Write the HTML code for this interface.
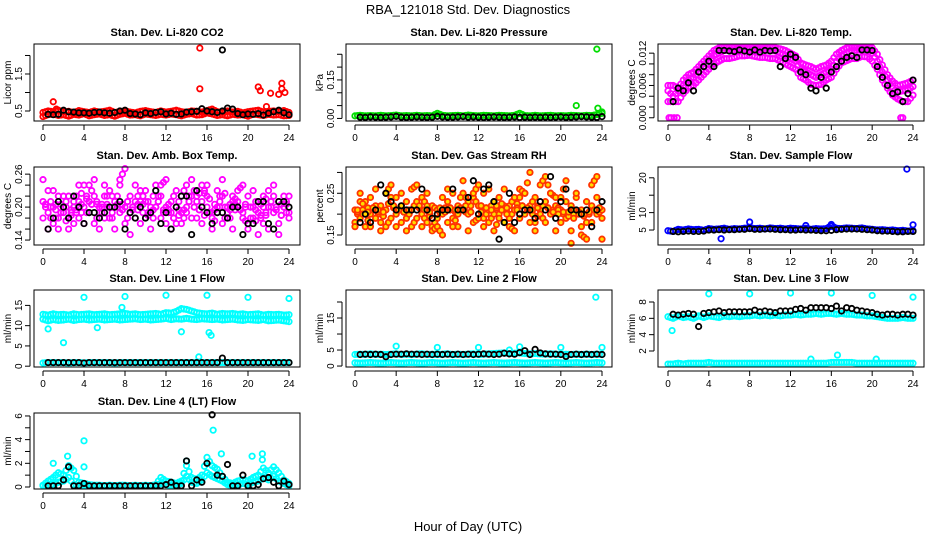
<!DOCTYPE html>
<html><head><meta charset="utf-8">
<style>
html,body{margin:0;padding:0;background:#fff;}
svg{display:block;font-family:"Liberation Sans",sans-serif;}
</style></head>
<body>
<svg id="chart" width="936" height="540" viewBox="0 0 936 540" xmlns="http://www.w3.org/2000/svg">
<text x="468" y="14" text-anchor="middle" font-size="13">RBA_121018  Std. Dev. Diagnostics</text>
<text x="468" y="531" text-anchor="middle" font-size="13">Hour of Day (UTC)</text>
</svg>
<script>
const hours=[0,0.5,1,1.5,2,2.5,3,3.5,4,4.5,5,5.5,6,6.5,7,7.5,8,8.5,9,9.5,10,10.5,11,11.5,12,12.5,13,13.5,14,14.5,15,15.5,16,16.5,17,17.5,18,18.5,19,19.5,20,20.5,21,21.5,22,22.5,23,23.5,24];
const xTicks=[0,4,8,12,16,20,24];

// CO2
const co2A=[0.35,0.4,0.42,0.38,0.4,0.36,0.41,0.39,0.43,0.37,0.4,0.42,0.38,0.4,0.36,0.41,0.44,0.39,0.4,0.37,0.42,0.4,0.38,0.41,0.39,0.42,0.4,0.37,0.41,0.43,0.39,0.4,0.45,0.42,0.38,0.4,0.37,0.41,0.39,0.4,0.36,0.42,0.4,0.38,0.41,0.39,0.4,0.37,0.38];
const co2B=[0.46,0.5,0.48,0.52,0.47,0.49,0.45,0.51,0.48,0.46,0.5,0.47,0.49,0.52,0.46,0.48,0.5,0.47,0.45,0.49,0.51,0.48,0.46,0.5,0.47,0.49,0.52,0.48,0.46,0.5,0.49,0.47,0.51,0.55,0.48,0.46,0.5,0.47,0.49,0.45,0.48,0.5,0.52,0.47,0.49,0.5,0.48,0.51,0.46];
const co2K=[0.42,0.41,0.4,0.41,0.52,0.48,0.47,0.45,0.45,0.44,0.46,0.47,0.45,0.44,0.46,0.5,0.52,0.43,0.42,0.4,0.45,0.43,0.46,0.48,0.42,0.44,0.41,0.42,0.47,0.48,0.49,0.56,0.5,0.48,0.46,0.5,0.58,0.55,0.43,0.4,0.42,0.41,0.43,0.39,0.44,0.48,0.52,0.45,0.4];
const co2ExX=[1,1.3,15.3,15.3,21,21.2,21.8,22.2,23,23.3,23.3,23.6];
const co2ExY=[0.75,0.55,2.2,1.1,1.15,1.05,0.62,0.98,0.95,1.25,1.1,1.0];
const co2KExX=[17.5];const co2KExY=[2.15];

// Pressure
const prA=[0.01,0.012,0.01,0.011,0.01,0.012,0.01,0.011,0.013,0.01,0.011,0.01,0.012,0.01,0.011,0.01,0.02,0.012,0.01,0.011,0.012,0.01,0.013,0.011,0.01,0.012,0.011,0.01,0.012,0.011,0.01,0.012,0.02,0.011,0.01,0.012,0.01,0.011,0.012,0.01,0.011,0.01,0.012,0.011,0.01,0.012,0.011,0.015,0.02];
const prK=[0.005,0.005,0.004,0.006,0.005,0.004,0.005,0.006,0.008,0.005,0.004,0.005,0.006,0.005,0.004,0.005,0.008,0.006,0.005,0.005,0.006,0.007,0.005,0.006,0.005,0.004,0.005,0.006,0.005,0.004,0.005,0.006,0.004,0.005,0.004,0.005,0.004,0.005,0.004,0.005,0.006,0.004,0.005,0.006,0.007,0.006,0.005,0.004,0.007];
const prExX=[21.5,23.5,23.6,24];const prExY=[0.05,0.27,0.04,0.025];

// Li-820 temperature
const tpMid=[0.005,0.004,0.005,0.006,0.007,0.0075,0.0085,0.0095,0.0105,0.0115,0.012,0.0125,0.0125,0.0125,0.0128,0.0128,0.0128,0.0127,0.0126,0.0126,0.0125,0.0124,0.012,0.0115,0.011,0.0105,0.009,0.0085,0.008,0.0075,0.008,0.0085,0.009,0.0105,0.0115,0.012,0.0125,0.0125,0.0128,0.0127,0.012,0.0105,0.0085,0.007,0.0055,0.0048,0.005,0.0052,0.0058];
const tpLow=[0.003,0.003,0.003,0.0045,0.0055,0.006,0.007,0.008,0.009,0.01,0.0105,0.011,0.011,0.0112,0.0115,0.0115,0.0116,0.0114,0.0112,0.0112,0.011,0.011,0.0105,0.01,0.0095,0.009,0.0075,0.007,0.0062,0.006,0.0062,0.007,0.0075,0.009,0.0102,0.0106,0.011,0.011,0.0114,0.0113,0.0105,0.009,0.007,0.0055,0.0042,0.0035,0.003,0.003,0.0042];
const tpHigh=[0.006,0.006,0.0055,0.007,0.008,0.0085,0.0095,0.0105,0.0115,0.0125,0.013,0.013,0.013,0.013,0.013,0.013,0.013,0.013,0.013,0.013,0.013,0.013,0.0128,0.0125,0.012,0.0115,0.0102,0.0098,0.0095,0.009,0.0095,0.0098,0.0105,0.0118,0.0125,0.013,0.013,0.013,0.013,0.013,0.013,0.0118,0.0098,0.008,0.0068,0.006,0.0062,0.0065,0.007];
const tpK=[0.006,0.003,0.0055,0.005,0.0065,0.005,0.0085,0.0095,0.0105,0.0095,0.0125,0.0125,0.0124,0.0123,0.0126,0.0124,0.0122,0.0126,0.0122,0.0125,0.0124,0.0125,0.0095,0.011,0.0118,0.0112,0.0085,0.008,0.0055,0.005,0.0075,0.0055,0.0085,0.0095,0.0105,0.0112,0.0115,0.0112,0.0126,0.0126,0.0125,0.0095,0.0075,0.006,0.0045,0.0048,0.003,0.0045,0.007];
const tpExX=[0.1,0.3,0.6,0.9,22.8,23];const tpExY=[0,0,0,0,0,0];

// Ambient box temperature
const abA=[0.21,0.19,0.23,0.18,0.2,0.22,0.17,0.21,0.24,0.19,0.22,0.2,0.18,0.23,0.21,0.19,0.2,0.22,0.18,0.21,0.23,0.19,0.2,0.22,0.17,0.21,0.23,0.19,0.2,0.22,0.18,0.21,0.24,0.19,0.2,0.22,0.18,0.21,0.2,0.19,0.22,0.18,0.21,0.2,0.23,0.19,0.21,0.2,0.18];
const abB=[0.18,0.23,0.17,0.22,0.19,0.16,0.21,0.18,0.2,0.24,0.17,0.19,0.22,0.18,0.2,0.24,0.17,0.19,0.21,0.23,0.18,0.2,0.24,0.18,0.2,0.19,0.17,0.22,0.24,0.18,0.22,0.17,0.2,0.18,0.23,0.17,0.19,0.22,0.21,0.18,0.17,0.23,0.19,0.17,0.2,0.22,0.17,0.2,0.22];
const abC=[0.25,0.16,0.2,0.16,0.22,0.18,0.2,0.24,0.17,0.21,0.25,0.16,0.24,0.2,0.16,0.25,0.27,0.15,0.24,0.17,0.21,0.16,0.2,0.24,0.25,0.16,0.2,0.17,0.19,0.25,0.21,0.24,0.22,0.16,0.19,0.25,0.2,0.16,0.23,0.24,0.16,0.2,0.15,0.22,0.16,0.24,0.15,0.22,0.19];
const abK=[0.19,0.16,0.18,0.21,0.2,0.18,0.22,0.2,0.17,0.19,0.19,0.18,0.19,0.2,0.2,0.21,0.16,0.19,0.18,0.2,0.18,0.19,0.23,0.17,0.19,0.16,0.2,0.22,0.22,0.15,0.23,0.2,0.19,0.17,0.19,0.19,0.18,0.2,0.2,0.15,0.17,0.17,0.21,0.21,0.17,0.16,0.21,0.21,0.2];

// Gas stream RH
const rhA=[0.21,0.19,0.23,0.2,0.22,0.18,0.21,0.24,0.2,0.22,0.19,0.21,0.23,0.2,0.18,0.22,0.21,0.2,0.23,0.19,0.22,0.21,0.2,0.24,0.22,0.19,0.21,0.23,0.2,0.22,0.19,0.21,0.24,0.2,0.22,0.18,0.21,0.23,0.2,0.22,0.21,0.19,0.22,0.2,0.21,0.18,0.22,0.2,0.21];
const rhB=[0.18,0.23,0.17,0.24,0.19,0.22,0.17,0.19,0.24,0.18,0.23,0.17,0.19,0.24,0.22,0.17,0.19,0.24,0.18,0.25,0.17,0.25,0.23,0.18,0.19,0.25,0.18,0.2,0.24,0.18,0.22,0.24,0.19,0.25,0.18,0.24,0.2,0.18,0.25,0.24,0.18,0.23,0.16,0.24,0.17,0.23,0.18,0.24,0.19];
const rhC=[0.17,0.25,0.2,0.17,0.26,0.16,0.25,0.27,0.17,0.25,0.16,0.26,0.27,0.17,0.25,0.16,0.17,0.15,0.26,0.17,0.2,0.28,0.16,0.25,0.27,0.17,0.26,0.16,0.19,0.26,0.17,0.16,0.26,0.25,0.3,0.16,0.27,0.29,0.25,0.16,0.24,0.28,0.13,0.25,0.15,0.14,0.27,0.29,0.14];
const rhK=[0.2,0.18,0.2,0.18,0.21,0.27,0.25,0.23,0.21,0.22,0.21,0.21,0.21,0.26,0.21,0.19,0.2,0.21,0.21,0.26,0.21,0.21,0.24,0.28,0.2,0.26,0.27,0.23,0.14,0.18,0.25,0.18,0.2,0.21,0.21,0.19,0.23,0.21,0.29,0.19,0.23,0.26,0.21,0.21,0.2,0.21,0.17,0.21,0.23];

// Sample flow
const sfA=[4.8,4.6,5.2,5.0,5.3,5.1,5.2,4.9,5.4,5.2,5.3,5.5,5.2,5.4,5.3,5.5,5.6,5.4,5.5,5.3,5.6,5.4,5.5,5.3,5.5,5.4,5.3,5.5,5.2,5.4,5.3,5.4,6.2,5.5,5.4,5.6,5.5,5.4,5.6,5.3,5.2,5.0,5.1,4.9,5.0,4.8,4.9,4.7,4.8];
const sfK=[4.7,4.6,4.5,4.6,4.7,4.6,4.6,4.7,5.0,5.0,5.1,5.0,5.1,5.1,5.2,5.2,5.4,5.2,5.2,5.3,5.3,5.2,5.1,5.1,5.0,5.0,5.1,5.0,5.0,4.9,4.8,4.8,4.9,5.1,5.2,5.3,5.3,5.3,5.2,5.1,5.0,4.8,4.7,4.7,4.6,4.5,4.5,4.6,4.6];
const sfExX=[5.2,8,13.5,16,23.4,24];const sfExY=[2.5,7.3,6.3,6.6,22.5,6.5];

// Line 1 flow
const l1A=[12.8,12.6,12.9,12.7,12.8,12.6,12.9,12.7,12.8,12.9,12.7,12.8,12.9,12.7,12.8,12.9,13.0,12.8,12.9,12.7,12.8,12.9,13.0,12.8,13.2,13.1,13.5,14.2,14.0,13.6,13.2,13.0,12.9,13.1,12.8,13.0,12.9,13.0,12.8,12.9,12.7,12.8,12.9,12.6,12.8,12.7,12.8,12.6,12.7];
const l1B=[11.6,11.2,11.5,11.3,11.4,11.6,11.3,11.5,11.6,11.4,11.5,11.6,11.4,11.5,11.6,11.4,11.5,11.6,11.7,11.5,11.6,11.4,11.5,11.6,11.8,11.5,11.7,11.6,11.8,11.6,11.5,11.7,11.6,11.5,11.6,11.4,11.5,11.6,11.4,11.3,11.5,11.4,11.3,11.5,11.2,11.3,11.4,11.2,11.0];
const l1C=[0.8,0.9,0.9,0.9,0.9,0.8,0.9,0.9,0.8,0.9,0.9,0.9,0.9,0.9,0.8,0.9,0.9,0.9,0.9,0.9,0.9,0.9,0.9,0.9,0.9,0.9,0.9,0.9,0.9,0.9,0.9,0.9,0.9,0.9,0.9,0.9,0.9,0.9,0.9,0.9,0.9,0.9,0.9,0.9,0.9,0.9,0.9,0.9,0.9];
const l1K=[0.9,0.9,0.9,0.9,0.9,0.9,0.9,0.9,0.8,0.9,0.9,0.9,0.9,0.9,0.9,0.9,0.9,0.9,0.9,0.9,0.9,0.9,0.9,0.9,0.9,0.9,0.9,0.9,0.9,0.9,0.9,0.9,0.9,0.9,0.9,2.0,0.9,0.9,0.9,0.9,0.9,0.9,0.9,0.9,0.9,0.9,0.9,0.9,0.9];
const l1ExX=[0.5,2,4,5.3,7.7,8,12,13.5,15.2,16,16.2,16.4,20,24];const l1ExY=[9.2,5.8,17,9.5,14.5,17.2,17.5,8.5,2.3,17.5,8.3,7.6,17,16.7];

// Line 2 flow
const l2A=[3.6,3.7,3.6,3.8,3.6,3.7,3.6,3.7,3.8,3.6,3.7,3.6,3.7,3.8,3.6,3.7,3.6,3.7,3.8,3.6,3.7,3.6,3.7,3.8,3.6,3.7,3.8,3.9,4.0,4.1,3.9,4.0,4.1,3.9,3.8,3.9,3.8,3.7,3.8,3.7,3.6,3.7,3.6,3.7,3.6,3.7,3.6,3.7,3.6];
const l2B=[1.0,0.9,1.0,1.1,1.0,0.9,1.0,1.1,1.0,0.9,1.0,1.1,1.0,0.9,1.0,1.1,1.0,0.9,1.0,1.1,1.0,0.9,1.0,1.1,1.0,0.9,1.0,1.1,1.0,0.9,1.0,1.1,1.0,0.9,1.0,1.1,1.0,0.9,1.0,1.1,1.0,0.9,1.0,1.1,1.0,0.9,1.0,1.1,1.0];
const l2K=[3.7,3.6,3.7,3.6,3.7,3.6,2.9,3.6,3.7,3.7,3.8,3.7,3.7,3.6,3.7,3.6,3.7,3.6,3.7,3.6,3.7,3.6,3.7,3.6,3.7,3.8,3.7,3.6,3.7,4.0,3.8,3.7,4.2,4.8,3.6,5.2,4.1,3.8,3.7,3.7,3.6,3.0,3.6,3.7,3.6,3.7,3.6,3.7,3.6];
const l2ExX=[4,8,12,15,16,20,23.4,24];const l2ExY=[6.2,5.8,5.8,5.0,6.0,5.8,21.5,5.8];

// Line 3 flow
const l3A=[6.2,6.0,6.3,6.1,6.2,6.0,6.3,6.1,6.3,6.2,6.1,6.3,6.2,6.3,6.2,6.3,6.3,6.4,6.3,6.4,6.3,6.4,6.3,6.4,6.4,6.5,6.4,6.5,6.5,6.6,6.5,6.6,6.6,6.5,6.6,6.5,6.5,6.4,6.4,6.3,6.3,6.2,6.1,6.0,6.0,6.0,6.1,6.0,6.0];
const l3B=[0.4,0.4,0.5,0.4,0.5,0.5,0.5,0.5,0.6,0.5,0.5,0.5,0.5,0.5,0.5,0.5,0.5,0.5,0.5,0.5,0.5,0.5,0.5,0.5,0.5,0.5,0.5,0.5,0.5,0.5,0.5,0.5,0.6,0.6,0.6,0.6,0.6,0.5,0.5,0.5,0.5,0.5,0.5,0.5,0.5,0.5,0.5,0.5,0.5];
const l3K=[6.5,6.5,6.4,6.5,6.6,6.5,5.0,6.6,6.7,6.8,6.9,6.7,6.8,6.8,6.8,6.8,6.8,7.0,6.8,6.9,6.8,6.7,6.9,6.9,6.9,7.1,7.2,7.0,7.3,7.3,7.3,7.3,7.2,7.5,6.9,7.3,7.2,7.0,6.9,6.8,6.7,6.5,6.4,6.5,6.5,6.4,6.5,6.5,6.4];
const l3ExX=[0.4,4,8,12,16,20,24,16.6,14,20.4];const l3ExY=[4.5,9.0,9.0,9.1,9.1,8.8,8.6,1.5,1.0,1.0];

// Line 4 (LT) flow
const l4A=[0.15,0.5,0.8,1.2,1.0,1.8,1.4,0.4,0.3,0.2,0.15,0.15,0.1,0.15,0.1,0.15,0.15,0.1,0.15,0.1,0.15,0.1,0.2,0.8,0.5,0.4,0.3,0.5,1.8,0.8,0.6,1.0,2.5,1.8,1.5,0.9,0.4,0.3,0.5,0.6,0.5,0.8,1.0,1.6,1.2,1.7,1.2,0.6,0.3];
const l4B=[0.1,0.1,0.2,0.4,0.5,0.8,0.2,0.1,0.1,0.1,0.1,0.1,0.1,0.1,0.1,0.1,0.1,0.1,0.1,0.1,0.1,0.1,0.1,0.3,0.2,0.1,0.2,0.3,0.9,0.4,0.3,0.6,1.2,0.9,0.7,0.5,0.2,0.1,0.2,0.3,0.2,0.4,0.5,0.8,0.6,0.9,0.5,0.3,0.1];
const l4K=[0.1,0.1,0.1,0.1,0.6,1.7,0.1,0.1,0.3,0.1,0.1,0.1,0.1,0.1,0.1,0.1,0.1,0.1,0.1,0.1,0.1,0.1,0.1,0.1,0.2,0.4,0.1,0.1,2.2,0.1,0.6,0.4,2.0,6.1,1.0,0.9,1.9,0.1,0.1,1.0,0.1,0.1,0.2,0.7,0.8,0.4,0.1,0.5,0.2];
const l4ExX=[1.0,2.4,4,4,14,16.6,17.4,20.4,21.4,21.4];const l4ExY=[2.0,2.6,3.9,1.7,2.2,4.8,2.8,2.6,2.8,2.3];

const svg=document.getElementById('chart');
const NS='http://www.w3.org/2000/svg';
function mk(tag,attrs,parent){const e=document.createElementNS(NS,tag);for(const k in attrs)e.setAttribute(k,attrs[k]);(parent||svg).appendChild(e);return e;}

const colL=[34,346,658],colR=[300,612,924],colX0=[43,355,668],colX24=[289,602,913];
const rowT=[44,167,290,413],rowB=[121,245,367,489];

const panels=[
 {name:'co2',r:0,c:0,title:'Stan. Dev. Li-820 CO2',yl:'Licor ppm',ymin:0.23,ymax:2.31,ticks:[0.5,1,1.5,2],labs:[0.5,1.5],fmt:v=>String(v),col:'#ff0000',fill:'none',ser:[co2A,co2B],ex:[co2ExX,co2ExY],k:co2K,kex:[co2KExX,co2KExY]},
 {name:'pressure',r:0,c:1,title:'Stan. Dev. Li-820 Pressure',yl:'kPa',ymin:-0.01,ymax:0.29,ticks:[0,0.05,0.1,0.15,0.2,0.25],labs:[0,0.15],fmt:v=>v.toFixed(2),col:'#00dd00',fill:'none',ser:[prA],ex:[prExX,prExY],k:prK},
 {name:'li820-temp',r:0,c:2,title:'Stan. Dev. Li-820 Temp.',yl:'degrees C',ymin:-0.0006,ymax:0.0137,ticks:[0,0.002,0.004,0.006,0.008,0.01,0.012],labs:[0,0.006,0.012],fmt:v=>v.toFixed(3),col:'#ff00ff',fill:'none',ser:[tpLow,tpMid,tpHigh],ex:[tpExX,tpExY],k:tpK},
 {name:'amb-box-temp',r:1,c:0,title:'Stan. Dev. Amb. Box Temp.',yl:'degrees C',ymin:0.131,ymax:0.273,ticks:[0.14,0.16,0.18,0.2,0.22,0.24,0.26],labs:[0.14,0.2,0.26],fmt:v=>v.toFixed(2),col:'#ff00ff',fill:'none',ser:[abA,abB,abC],k:abK},
 {name:'gas-rh',r:1,c:1,title:'Stan. Dev. Gas Stream RH',yl:'percent',ymin:0.126,ymax:0.313,ticks:[0.15,0.2,0.25,0.3],labs:[0.15,0.25],fmt:v=>v.toFixed(2),col:'#ff3300',fill:'#ffdd00',ser:[rhA,rhB,rhC],k:rhK},
 {name:'sample-flow',r:1,c:2,title:'Stan. Dev. Sample Flow',yl:'ml/min',ymin:0.7,ymax:23.1,ticks:[5,10,15,20],labs:[5,10,20],fmt:v=>String(v),col:'#0000ff',fill:'none',ser:[sfA],ex:[sfExX,sfExY],k:sfK},
 {name:'line1-flow',r:2,c:0,title:'Stan. Dev. Line 1 Flow',yl:'ml/min',ymin:-0.2,ymax:18.8,ticks:[0,5,10,15],labs:[0,5,10,15],fmt:v=>String(v),col:'#00ffff',fill:'none',ser:[l1A,l1B,l1C],ex:[l1ExX,l1ExY],k:l1K},
 {name:'line2-flow',r:2,c:1,title:'Stan. Dev. Line 2 Flow',yl:'ml/min',ymin:-0.3,ymax:23.75,ticks:[0,5,10,15,20],labs:[0,5,15],fmt:v=>String(v),col:'#00ffff',fill:'none',ser:[l2A,l2B],ex:[l2ExX,l2ExY],k:l2K},
 {name:'line3-flow',r:2,c:2,title:'Stan. Dev. Line 3 Flow',yl:'ml/min',ymin:0.04,ymax:9.47,ticks:[2,4,6,8],labs:[2,4,6,8],fmt:v=>String(v),col:'#00ffff',fill:'none',ser:[l3A,l3B],ex:[l3ExX,l3ExY],k:l3K},
 {name:'line4-flow',r:3,c:0,title:'Stan. Dev. Line 4 (LT) Flow',yl:'ml/min',ymin:-0.17,ymax:6.25,ticks:[0,1,2,3,4,5,6],labs:[0,2,4,6],fmt:v=>String(v),col:'#00ffff',fill:'none',ser:[l4A,l4B],ex:[l4ExX,l4ExY],k:l4K}
];

panels.forEach(p=>{
 const L=colL[p.c],R=colR[p.c],T=rowT[p.r],B=rowB[p.r];
 const xs=h=>colX0[p.c]+(colX24[p.c]-colX0[p.c])*h/24;
 const ys=v=>B-(v-p.ymin)/(p.ymax-p.ymin)*(B-T);
 const g=mk('g',{});
 
 
 const t=mk('text',{x:(L+R)/2,y:T-8,'text-anchor':'middle','font-size':'11','font-weight':'bold'},g);
 
 
 t.textContent=p.title;
 const yl=mk('text',{x:0,y:0,'text-anchor':'middle','font-size':'10',transform:`translate(${L-23},${(T+B)/2}) rotate(-90)`},g);
 
 
 yl.textContent=p.yl;
 const pts=mk('g',{},g);
 
 
 const dot=(h,v,stroke,fill)=>{const y=ys(v);if(y<T-2||y>B+2)return;const c=mk('circle',{cx:xs(h),cy:y,r:2.7,fill:fill,stroke:stroke,'stroke-width':1.8},pts);
  
  };
 p.ser.forEach(s=>s.forEach((v,i)=>{dot(hours[i],v,p.col,p.fill);if(i<hours.length-1)dot(hours[i]+0.25,(v+s[i+1])/2,p.col,p.fill);}));
 if(p.ex)p.ex[0].forEach((h,i)=>dot(h,p.ex[1][i],p.col,p.fill));
 p.k.forEach((v,i)=>{if(i>0)dot(hours[i],v,'#000','none');});
 if(p.kex)p.kex[0].forEach((h,i)=>dot(h,p.kex[1][i],'#000','none'));
 const box=mk('rect',{x:L,y:T,width:R-L,height:B-T,fill:'none',stroke:'#000','stroke-width':1},g);
 
 
 const xa=mk('g',{},g);
 
 
 mk('line',{x1:xs(0),x2:xs(24),y1:B+4,y2:B+4,stroke:'#000'},xa);
 xTicks.forEach(h=>{mk('line',{x1:xs(h),x2:xs(h),y1:B+4,y2:B+9,stroke:'#000'},xa);
  const tl=mk('text',{x:xs(h),y:B+20,'text-anchor':'middle','font-size':'10'},xa);
  
  
  tl.textContent=h;});
 const ya=mk('g',{},g);
 
 
 mk('line',{x1:L-4,x2:L-4,y1:ys(p.ticks[0]),y2:ys(p.ticks[p.ticks.length-1]),stroke:'#000'},ya);
 p.ticks.forEach(v=>mk('line',{x1:L-9,x2:L-4,y1:ys(v),y2:ys(v),stroke:'#000'},ya));
 p.labs.forEach(v=>{const tl=mk('text',{x:0,y:0,'text-anchor':'middle','font-size':'10',transform:`translate(${L-12},${ys(v)}) rotate(-90)`},ya);
  
  
  tl.textContent=p.fmt(v);});
});
</script>
</body></html>
